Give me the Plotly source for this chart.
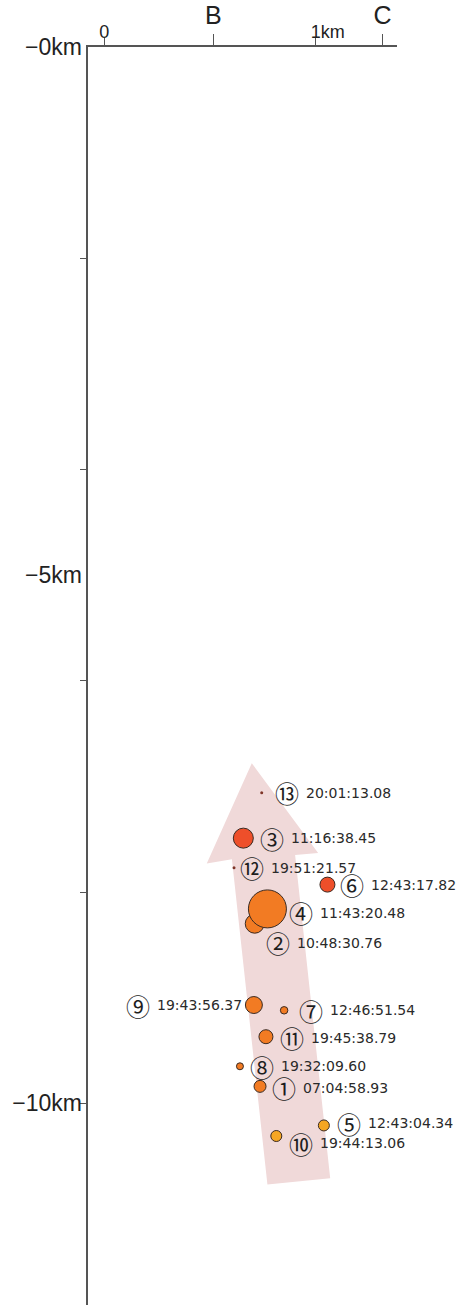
import plotly.graph_objects as go

# Hypocentres projected onto the B–C cross-section
event_no = list(range(1, 14))
origin_time = [
    "07:04:58.93", "10:48:30.76", "11:16:38.45", "11:43:20.48", "12:43:04.34",
    "12:43:17.82", "12:46:51.54", "19:32:09.60", "19:43:56.37", "19:44:13.06",
    "19:45:38.79", "19:51:21.57", "20:01:13.08",
]
distance_km = [0.738, 0.713, 0.659, 0.773, 1.040, 1.057, 0.852, 0.643, 0.709, 0.815, 0.766, 0.615, 0.746]
depth_km = [-9.84, -8.30, -7.49, -8.16, -10.21, -7.93, -9.12, -9.65, -9.07, -10.31, -9.37, -7.77, -7.06]

# Section end points and axis ticks
section_marks = ["B", "C"]
section_pos_km = [0.517, 1.318]
dist_tickvals = [0, 1]
dist_ticktext = ["0", "1km"]
depth_minor_ticks = [-2, -4, -6, -8, -10]
depth_label_vals = [0, -5, -10]
depth_label_text = ["\u22120km", "\u22125km", "\u221210km"]

# Migration arrow outline (km along section, km depth)
arrow_x = [0.699, 1.013, 0.904, 1.070, 0.773, 0.605, 0.486, 0.699]
arrow_y = [-6.78, -7.63, -7.65, -10.71, -10.77, -7.69, -7.73, -6.78]

# Marker styling
marker_diam = [12, 19, 20, 38, 11, 15, 7.5, 7, 17, 11, 14, 3, 3]
RED, ORANGE, AMBER, DARK = "#EE4F2A", "#F27B23", "#F5A623", "#7E3528"
marker_color = [ORANGE, ORANGE, RED, ORANGE, AMBER, RED, ORANGE, ORANGE, ORANGE, AMBER, ORANGE, DARK, DARK]
marker_line = [1, 1, 1, 1, 1, 1, 1, 1, 1, 1, 1, 0, 0]
# label offsets from each marker (px, right / down)
label_dx = [23.7, 23, 28.4, 34, 25, 24.7, 26.7, 21.7, -115.8, 24.2, 26, 18, 25]
label_dy = [1.6, 19, 0, 3.7, -2.4, 0, 0, 0, 0, 7.3, 1, 0, 0]

fig = go.Figure()

fig.add_trace(go.Scatter(
    x=arrow_x, y=arrow_y, mode="lines", fill="toself",
    fillcolor="#F0D9D9", line=dict(width=0), hoverinfo="skip", showlegend=False,
))

fig.add_trace(go.Scatter(
    x=distance_km, y=depth_km, mode="markers",
    marker=dict(size=marker_diam, color=marker_color,
                line=dict(color="#3A2A22", width=marker_line), opacity=1),
    showlegend=False, hoverinfo="skip",
))

# the B / C tick axis shares the data axis
fig.add_trace(go.Scatter(x=[None], y=[None], xaxis="x2", yaxis="y2", showlegend=False))

annotations = []
for n, t, x, y, dx, dy in zip(event_no, origin_time, distance_km, depth_km, label_dx, label_dy):
    annotations.append(dict(
        x=x, y=y, xref="x", yref="y", text=chr(0x2460 + n - 1), showarrow=False,
        xanchor="center", yanchor="middle", xshift=dx, yshift=-dy,
        font=dict(family="Noto Sans CJK JP", size=24, color="#1E1E1E"),
    ))
    annotations.append(dict(
        x=x, y=y, xref="x", yref="y", text=t, showarrow=False,
        xanchor="left", yanchor="middle", xshift=dx + 17, yshift=-dy,
        font=dict(family="DejaVu Sans", size=14, color="#2A2A2A"),
    ))

AXIS = "#555555"
x_range = [-0.0758, 1.386]
y_range = [-11.91, 0]

fig.update_layout(
    width=465, height=1305,
    margin=dict(l=88, r=68, t=47, b=0),
    paper_bgcolor="white", plot_bgcolor="white",
    showlegend=False,
    annotations=annotations,
    xaxis=dict(
        side="top", range=x_range, showgrid=False, zeroline=False,
        showline=True, linecolor=AXIS, linewidth=1.5,
        tickmode="array", tickvals=dist_tickvals, ticktext=dist_ticktext,
        ticks="outside", ticklen=7, tickwidth=1.2, tickcolor=AXIS,
        ticklabelposition="outside right", ticklabelshift=-6,
        tickfont=dict(family="Liberation Sans", size=18, color="#222222"),
    ),
    xaxis2=dict(
        overlaying="x", matches="x", side="top", range=x_range,
        showgrid=False, zeroline=False, showline=False,
        tickmode="array", tickvals=section_pos_km, ticktext=section_marks,
        ticks="outside", ticklen=12, tickwidth=1.2, tickcolor=AXIS,
        tickfont=dict(family="Liberation Sans", size=25, color="#222222"),
    ),
    yaxis=dict(
        range=y_range, showgrid=False, zeroline=False,
        showline=True, linecolor=AXIS, linewidth=1.5,
        tickmode="array", tickvals=depth_minor_ticks, showticklabels=False,
        ticks="outside", ticklen=6, tickwidth=1.2, tickcolor=AXIS,
    ),
    yaxis2=dict(
        overlaying="y", matches="y", range=y_range, showgrid=False,
        zeroline=False, showline=False,
        tickmode="array", tickvals=depth_label_vals, ticktext=depth_label_text,
        ticks="", ticklabelstandoff=5,
        tickfont=dict(family="Liberation Sans", size=23, color="#222222"),
    ),
)

fig.write_html("out.html")
